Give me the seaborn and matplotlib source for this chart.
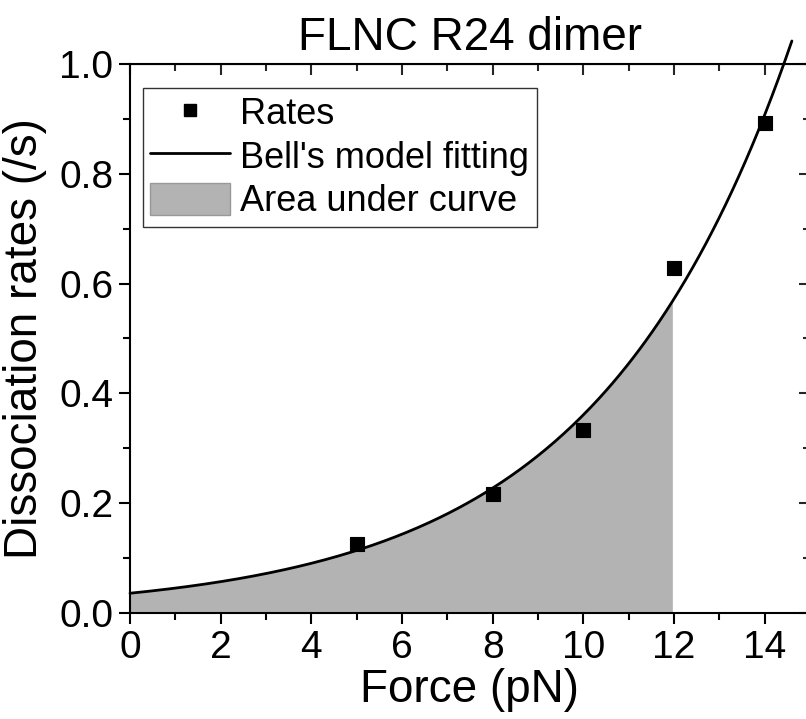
import numpy as np
import pandas as pd
import matplotlib
matplotlib.use('Agg')
import matplotlib.pyplot as plt
import seaborn as sns
from matplotlib.ticker import MultipleLocator
from matplotlib.patches import Patch
from matplotlib.lines import Line2D

# measured rates
force = [5, 8, 10, 12, 14]
rates = [0.125, 0.217, 0.333, 0.628, 0.892]

# Bell's model fit parameters (k = k0 * exp(F / Fb))
k0 = 0.036
inv_fb = 0.2305
fit_force = np.linspace(0, 14.6, 300)
fit_rate = k0 * np.exp(inv_fb * fit_force)
area_end = 12

df = pd.DataFrame({'Force': force, 'Rate': rates})
fit_df = pd.DataFrame({'Force': fit_force, 'Rate': fit_rate})

sns.set_style('ticks')
plt.rcParams['font.family'] = ['Liberation Sans', 'DejaVu Sans']
plt.rcParams['text.color'] = 'black'
plt.rcParams['axes.labelcolor'] = 'black'

fig = plt.figure(figsize=(8.06, 7.19), dpi=100)
ax = fig.add_axes([130 / 806, 1 - 613 / 719, 680 / 806, 549 / 719])

under = fit_df[fit_df['Force'] <= area_end]
ax.fill_between(under['Force'], 0, under['Rate'], color='#b3b3b3', lw=0, zorder=1)
sns.lineplot(data=fit_df, x='Force', y='Rate', color='black', lw=2, ax=ax, zorder=2)
ax.lines[-1].set_clip_on(False)
sns.scatterplot(data=df, x='Force', y='Rate', marker='s', s=100, color='black',
                edgecolor='black', ax=ax, zorder=3)

ax.set_xlim(0, 15)
ax.set_ylim(0, 1.0)
ax.xaxis.set_major_locator(MultipleLocator(2))
ax.xaxis.set_minor_locator(MultipleLocator(1))
ax.yaxis.set_major_locator(MultipleLocator(0.2))
ax.yaxis.set_minor_locator(MultipleLocator(0.1))
ax.yaxis.set_major_formatter(matplotlib.ticker.FormatStrFormatter('%.1f'))

for s in ax.spines.values():
    s.set_linewidth(1.5)
    s.set_color('black')

ax.tick_params(which='both', direction='out', top=False, right=False, width=1.5,
               labelsize=28, colors='black', pad=4)
ax.tick_params(which='major', length=8)
ax.tick_params(which='minor', length=5)

# inward ticks on top and right, like the Origin frame
ax2 = ax.secondary_xaxis('top')
ax2.xaxis.set_major_locator(MultipleLocator(2))
ax2.xaxis.set_minor_locator(MultipleLocator(1))
ax2.tick_params(which='both', direction='in', width=1.5, labeltop=False)
ax2.tick_params(which='major', length=8)
ax2.tick_params(which='minor', length=5)
ax3 = ax.secondary_yaxis('right')
ax3.yaxis.set_major_locator(MultipleLocator(0.2))
ax3.yaxis.set_minor_locator(MultipleLocator(0.1))
ax3.tick_params(which='both', direction='in', width=1.5, labelright=False)
ax3.tick_params(which='major', length=8)
ax3.tick_params(which='minor', length=5)

ax.set_xlabel('Force (pN)', fontsize=33, labelpad=2)
ax.set_ylabel('Dissociation rates (/s)', fontsize=33, labelpad=9)
ax.set_title('FLNC R24 dimer', fontsize=33, pad=10)

handles = [
    Line2D([], [], marker='s', color='black', lw=0, markersize=9),
    Line2D([], [], color='black', lw=2),
    Patch(facecolor='#b3b3b3', edgecolor='#999999'),
]
labels = ['Rates', "Bell's model fitting", 'Area under curve']
leg = ax.legend(handles, labels, loc='upper left', bbox_to_anchor=(0.019, 0.956),
                fontsize=26, frameon=True, fancybox=False, handlelength=2.2,
                handleheight=1.0, handletextpad=0.3, labelspacing=0.2,
                borderpad=0.2, borderaxespad=0)
leg.get_frame().set_edgecolor('black')
leg.get_frame().set_linewidth(1)

fig.savefig('out.png', dpi=100)
